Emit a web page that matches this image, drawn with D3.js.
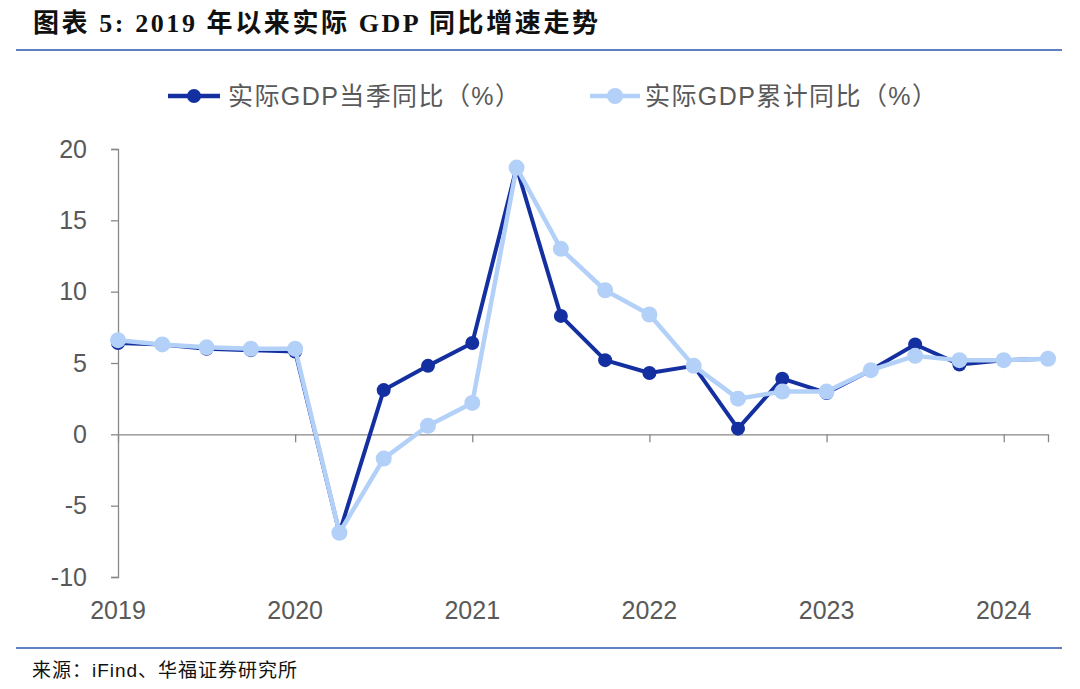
<!DOCTYPE html>
<html><head><meta charset="utf-8">
<script src="https://cdn.jsdelivr.net/npm/d3@7"></script>
<style>body{margin:0;background:#fff}</style>
</head><body>
<svg id="c" width="1080" height="689"></svg>
<script>
const quarterly = [6.4,6.3,6.0,5.9,5.8,-6.9,3.1,4.8,6.4,18.7,8.3,5.2,4.3,4.8,0.4,3.9,2.9,4.5,6.3,4.9,5.2,5.3];
const cumulative = [6.6,6.3,6.1,6.0,6.0,-6.9,-1.7,0.6,2.2,18.7,13.0,10.1,8.4,4.8,2.5,3.0,3.0,4.5,5.5,5.2,5.2,5.3];
const yearLabels = ["2019","2020","2021","2022","2023","2024"];
const yearIdx = [0,4,8,12,16,20];
const yTicks = [-10,-5,0,5,10,15,20];
const seriesNames = ["实际GDP当季同比（%）","实际GDP累计同比（%）"];
const colors = ["#1430a0","#b3d1f8"];

const svg = d3.select("#c");
const font = "'Liberation Sans','Noto Sans CJK SC',sans-serif";
const x = d3.scaleLinear().domain([0,21]).range([118,1048]);
const y = d3.scaleLinear().domain([-10,20]).range([577,149]);

// title
svg.append("text").attr("x",33).attr("y",32)
  .style("font-family","'Liberation Serif','Noto Sans CJK SC',serif").style("font-weight","bold")
  .style("font-size","26px").attr("fill","#111")
  .attr("textLength",565).attr("lengthAdjust","spacing")
  .text("图表 5:  2019 年以来实际 GDP 同比增速走势");
svg.append("line").attr("x1",16).attr("x2",1062).attr("y1",50).attr("y2",50)
  .attr("stroke","#5f80c0").attr("stroke-width",2);
// footer
svg.append("line").attr("x1",16).attr("x2",1062).attr("y1",648).attr("y2",648)
  .attr("stroke","#5f80c0").attr("stroke-width",2);
svg.append("text").attr("x",32).attr("y",677)
  .style("font-family",font).style("font-size","19px").attr("fill","#111")
  .attr("textLength",265).attr("lengthAdjust","spacing")
  .text("来源：iFind、华福证券研究所");

// y axis
const yAxis = svg.append("g").attr("transform","translate(118,0)")
  .call(d3.axisLeft(y).tickValues(yTicks).tickSize(7).tickPadding(24).tickFormat(d=>String(d)));
yAxis.select(".domain").attr("stroke","#888").attr("stroke-width",1.3);
yAxis.selectAll(".tick line").attr("stroke","#888").attr("stroke-width",1.3);
yAxis.selectAll(".tick text").style("font-family",font).style("font-size","25px").attr("fill","#595959");

// x axis at zero
const xAxis = svg.append("g").attr("transform",`translate(0,${y(0)})`)
  .call(d3.axisBottom(x).tickValues(yearIdx.slice(1)).tickSize(8).tickFormat(""));
xAxis.select(".domain").attr("stroke","#888").attr("stroke-width",1.3);
xAxis.selectAll(".tick line").attr("stroke","#888").attr("stroke-width",1.3);
svg.selectAll(".xl").data(yearIdx).enter().append("text")
  .attr("x",d=>x(d)).attr("y",619).attr("text-anchor","middle")
  .style("font-family",font).style("font-size","25px").attr("fill","#595959")
  .text((d,i)=>yearLabels[i]);

// series
const line = d3.line().x((d,i)=>x(i)).y(d=>y(d));
[[quarterly,0,4,7],[cumulative,1,4.5,8]].forEach(([data,k,w,r])=>{
  svg.append("path").datum(data).attr("d",line).attr("fill","none")
    .attr("stroke",colors[k]).attr("stroke-width",w).attr("stroke-linejoin","round");
  svg.selectAll(".m"+k).data(data).enter().append("circle")
    .attr("cx",(d,i)=>x(i)).attr("cy",d=>y(d)).attr("r",r).attr("fill",colors[k]);
});

// legend
const leg = [[168,220,194,228],[590,640,615,645]];
leg.forEach((p,k)=>{
  svg.append("line").attr("x1",p[0]).attr("x2",p[1]).attr("y1",96).attr("y2",96)
    .attr("stroke",colors[k]).attr("stroke-width",4.5);
  svg.append("circle").attr("cx",p[2]).attr("cy",96).attr("r",k?8:7).attr("fill",colors[k]);
  svg.append("text").attr("x",p[3]).attr("y",105)
    .style("font-family",font).style("font-size","25px").attr("fill","#595959")
    .attr("textLength",292).attr("lengthAdjust","spacing")
    .text(seriesNames[k]);
});
</script>
</body></html>
